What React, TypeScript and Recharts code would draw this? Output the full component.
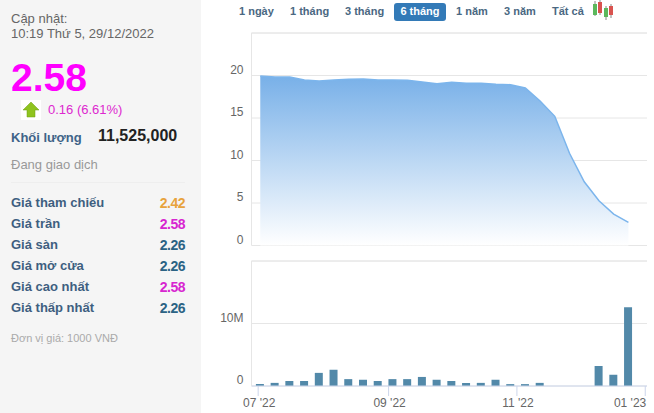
import {
  Area,
  AreaChart,
  Bar,
  BarChart,
  CartesianGrid,
  ReferenceLine,
  XAxis,
  YAxis,
} from 'recharts';

// One point per week, Jul 2022 to Dec 2022
const weeks = [
  '2022-07-02', '2022-07-09', '2022-07-16', '2022-07-23', '2022-07-30', '2022-08-06',
  '2022-08-13', '2022-08-20', '2022-08-27', '2022-09-03', '2022-09-10', '2022-09-17',
  '2022-09-24', '2022-10-01', '2022-10-08', '2022-10-15', '2022-10-22', '2022-10-29',
  '2022-11-05', '2022-11-12', '2022-11-19', '2022-11-26', '2022-12-03', '2022-12-10',
  '2022-12-17', '2022-12-24',
];
const prices = [
  19.94, 19.82, 19.82, 19.47, 19.35, 19.47, 19.55, 19.59, 19.47, 19.47, 19.43, 19.24, 19.04,
  19.2, 19.08, 19.08, 18.96, 18.92, 18.53, 17.0, 15.2, 10.85, 7.5, 5.27, 3.7, 2.73,
];
const volumes = [
  0.32, 0.5, 0.8, 0.8, 2.1, 2.6, 1.1, 1.0, 0.8, 1.1, 1.1, 1.45, 1.0, 0.8, 0.5, 0.5, 1.0, 0.3,
  0.3, 0.5, 0, 0, 0, 3.2, 1.8, 12.6,
].map(v => v * 1000000);

const xTickDates = ['2022-07-01', '2022-09-01', '2022-11-01', '2023-01-01'];
const xTickLabels = ["07 '22", "09 '22", "11 '22", "01 '23"];
const priceTicks = [0, 5, 10, 15, 20];
const volumeTicks = [0, 10000000];

const rangeTabs = ['1 ngày', '1 tháng', '3 tháng', '6 tháng', '1 năm', '3 năm', 'Tất cả'];
const tabLefts = [239, 290, 345, 394, 456, 504, 552];

const quoteLabels = ['Giá tham chiếu', 'Giá trần', 'Giá sàn', 'Giá mở cửa', 'Giá cao nhất', 'Giá thấp nhất'];
const quoteValues = ['2.42', '2.58', '2.26', '2.26', '2.58', '2.26'];
const quoteColors = ['#e8a33d', '#d726d0', '#2b6384', '#2b6384', '#d726d0', '#2b6384'];

const FONT = '"Liberation Sans", Arial, sans-serif';
const toTime = (d: string) => new Date(d + 'T00:00:00Z').getTime();
const xDomain = [toTime('2022-06-27') + 72000000, toTime('2023-01-01') + 72000000];
const xTicks = xTickDates.map(toTime);

const chartData = weeks.map((week, i) => ({
  time: toTime(week),
  price: prices[i],
  volume: volumes[i],
}));

function YTick({ x, y, payload, unit }: any) {
  const label = unit === 'M' && payload.value > 0 ? payload.value / 1000000 + 'M' : String(payload.value);
  return (
    <text x={x} y={y - 2} textAnchor="end" fontSize={12} fontFamily={FONT} fill="#666666">
      {label}
    </text>
  );
}

function XTick({ x, y, payload }: any) {
  const idx = xTicks.indexOf(payload.value);
  const last = idx === xTicks.length - 1;
  return (
    <text x={last ? x + 1 : x + 1} y={y + 9} textAnchor={last ? 'end' : 'middle'} fontSize={12} fontFamily={FONT} fill="#666666">
      {xTickLabels[idx]}
    </text>
  );
}

function Text({ x, y, children, style }: any) {
  return (
    <div style={{ position: 'absolute', left: x, top: y, whiteSpace: 'nowrap', ...style }}>
      {children}
    </div>
  );
}

function UpArrow() {
  return (
    <svg width={20} height={20} style={{ position: 'absolute', left: 21, top: 100, background: '#fff' }}>
      <polygon points="10,2 18,10 14,10 14,17 6,17 6,10 2,10" fill="#8fc31f" stroke="#6f9e12" strokeWidth={0.5} />
    </svg>
  );
}

function CandleIcon() {
  const candles = [
    { x: 595, top: 4, bottom: 15, wickTop: 1, wickBottom: 16, color: '#5cb85c' },
    { x: 600, top: 2, bottom: 13, wickTop: 0, wickBottom: 15, color: '#d9534f' },
    { x: 606, top: 8, bottom: 17, wickTop: 6, wickBottom: 20, color: '#5cb85c' },
    { x: 611, top: 6, bottom: 15, wickTop: 4, wickBottom: 18, color: '#d9534f' },
  ];
  return (
    <svg width={24} height={21} style={{ position: 'absolute', left: 590, top: 0 }}>
      {candles.map(c => (
        <g key={c.x}>
          <line x1={c.x - 590} x2={c.x - 590} y1={c.wickTop} y2={c.wickBottom} stroke="#888" />
          <rect x={c.x - 592} y={c.top} width={4} height={c.bottom - c.top} fill={c.color} />
        </g>
      ))}
    </svg>
  );
}

export default function App() {
  return (
    <div style={{ position: 'absolute', left: 0, top: 0, width: 654, height: 413, overflow: 'hidden', background: '#fff', fontFamily: FONT }}>
      <div style={{ position: 'absolute', left: 0, top: 0, width: 201, height: 413, background: '#f5f5f5' }} />
      <Text x={11} y={11} style={{ fontSize: 13, lineHeight: '15px', color: '#666' }}>
        Cập nhật:<br />10:19 Thứ 5, 29/12/2022
      </Text>
      <Text x={11} y={55} style={{ fontSize: 39, lineHeight: '46px', fontWeight: 700, color: '#ff00ff' }}>2.58</Text>
      <UpArrow />
      <Text x={48} y={102} style={{ fontSize: 13, lineHeight: '16px', color: '#dd28cf' }}>0.16 (6.61%)</Text>
      <Text x={11} y={130} style={{ fontSize: 13, lineHeight: '16px', fontWeight: 700, color: '#3e6388' }}>Khối lượng</Text>
      <Text x={98} y={127} style={{ fontSize: 16, lineHeight: '18px', fontWeight: 700, color: '#222' }}>11,525,000</Text>
      <Text x={11} y={157} style={{ fontSize: 13, lineHeight: '16px', color: '#999' }}>Đang giao dịch</Text>
      <div style={{ position: 'absolute', left: 11, top: 182, width: 174, height: 1, background: '#eeeeee' }} />
      {quoteLabels.map((label, i) => (
        <div key={label}>
          <Text x={11} y={195 + i * 21} style={{ fontSize: 13, lineHeight: '16px', fontWeight: 700, color: '#3e5f80' }}>{label}</Text>
          <Text x={145} y={195 + i * 21} style={{ width: 40, textAlign: 'right', fontSize: 14, lineHeight: '16px', fontWeight: 700, letterSpacing: -0.5, color: quoteColors[i] }}>{quoteValues[i]}</Text>
        </div>
      ))}
      <Text x={11} y={331} style={{ fontSize: 11, lineHeight: '14px', color: '#aaa' }}>Đơn vị giá: 1000 VNĐ</Text>

      {rangeTabs.map((tab, i) => {
        const active = tab === '6 tháng';
        return (
          <Text
            key={tab}
            x={tabLefts[i]}
            y={3}
            style={
              active
                ? { width: 52, height: 18, lineHeight: '17px', textAlign: 'center', background: '#337ab7', borderRadius: 3, color: '#fff', fontSize: 11, fontWeight: 700 }
                : { lineHeight: '17px', color: '#4a6882', fontSize: 11, fontWeight: 700 }
            }
          >
            {tab}
          </Text>
        );
      })}
      <CandleIcon />

      <div style={{ position: 'absolute', left: 210, top: 0 }}>
        <AreaChart width={444} height={256} data={chartData} margin={{ top: 33, right: 7, bottom: 10.5, left: 0 }}>
          <defs>
            <linearGradient id="priceFill" x1="0" y1="0" x2="0" y2="1">
              <stop offset="0%" stopColor="#78b0e8" />
              <stop offset="100%" stopColor="#ffffff" />
            </linearGradient>
          </defs>
          <CartesianGrid vertical={false} stroke="#e6e6e6" />
          <XAxis dataKey="time" type="number" scale="time" domain={xDomain} ticks={xTicks} hide />
          <YAxis
            width={41.5}
            domain={[0, 25]}
            ticks={priceTicks}
            interval={0}
            tickLine={false}
            tickSize={0}
            tickMargin={8}
            axisLine={{ stroke: '#e6e6e6' }}
            tick={<YTick />}
          />
          <ReferenceLine y={25} stroke="#e6e6e6" />
          <Area
            type="linear"
            dataKey="price"
            stroke="#7cb5ec"
            strokeWidth={1.5}
            fill="url(#priceFill)"
            fillOpacity={1}
            dot={false}
            activeDot={false}
            isAnimationActive={false}
          />
        </AreaChart>
      </div>

      <div style={{ position: 'absolute', left: 210, top: 255 }}>
        <BarChart width={444} height={158} data={chartData} margin={{ top: 6, right: 7, bottom: 0, left: 0 }}>
          <CartesianGrid vertical={false} stroke="#e6e6e6" />
          <XAxis
            dataKey="time"
            type="number"
            scale="time"
            domain={xDomain}
            ticks={xTicks}
            interval={0}
            height={27}
            tickSize={10}
            tickMargin={2}
            stroke="#ccd6eb"
            tick={<XTick />}
          />
          <YAxis
            width={41.5}
            domain={[0, 20000000]}
            ticks={volumeTicks}
            interval={0}
            tickLine={false}
            tickSize={0}
            tickMargin={8}
            axisLine={{ stroke: '#e6e6e6' }}
            tick={<YTick unit="M" />}
          />
          <ReferenceLine y={20000000} stroke="#e6e6e6" />
          <Bar dataKey="volume" fill="#5289a9" barSize={8} isAnimationActive={false} />
        </BarChart>
      </div>
    </div>
  );
}
